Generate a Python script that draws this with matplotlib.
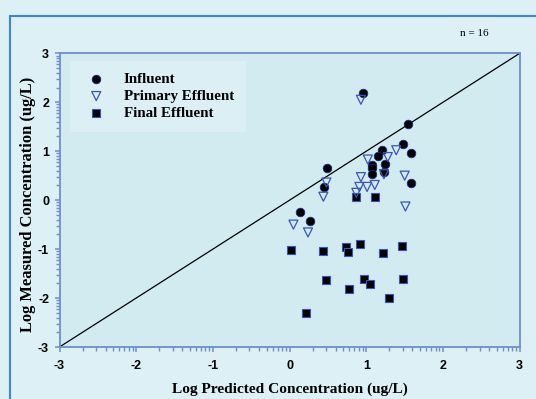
import numpy as np
import matplotlib
matplotlib.use("Agg")
import matplotlib.pyplot as plt
from matplotlib.patches import Rectangle

# Data (log predicted, log measured)
influent_x = [0.96, 1.55, 1.48, 1.58, 1.21, 1.15, 1.08, 1.07, 1.08, 1.25, 1.23, 0.49, 0.45, 1.58, 0.13, 0.26]
influent_y = [2.19, 1.55, 1.14, 0.96, 1.03, 0.91, 0.71, 0.65, 0.54, 0.73, 0.58, 0.66, 0.26, 0.36, -0.24, -0.43]

primary_x = [0.93, 1.39, 1.28, 1.02, 0.93, 0.48, 0.91, 1.01, 1.11, 0.87, 1.23, 1.50, 0.44, 1.51, 0.05, 0.24]
primary_y = [2.05, 1.02, 0.88, 0.83, 0.47, 0.36, 0.27, 0.27, 0.31, 0.15, 0.53, 0.50, 0.07, -0.13, -0.50, -0.66]

final_x = [0.87, 1.11, 0.02, 0.44, 0.73, 0.76, 0.92, 1.47, 1.22, 0.47, 0.97, 1.05, 0.78, 1.48, 1.29, 0.22]
final_y = [0.06, 0.06, -1.01, -1.03, -0.96, -1.05, -0.90, -0.93, -1.07, -1.64, -1.61, -1.72, -1.82, -1.62, -2.00, -2.30]

major_ticks = [-3, -2, -1, 0, 1, 2, 3]
series_labels = ["Influent", "Primary Effluent", "Final Effluent"]
x_label = "Log Predicted Concentration (ug/L)"
y_label = "Log Measured Concentration (ug/L)"
n_text = "n = 16"

W, H = 536, 399
fig = plt.figure(figsize=(W / 100, H / 100), dpi=100)
fig.patch.set_facecolor("#dcf0f5")

# outer blue frame (clipped at right/bottom)
fig.patches.append(Rectangle((9.5 / W, -0.05), 1.2, (H - 15.5) / H + 0.05,
                             transform=fig.transFigure, fill=False,
                             edgecolor="#3d86d6", linewidth=1.5))

ax = fig.add_axes([59.5 / W, (H - 347) / H, (519.7 - 59.5) / W, (347 - 53.3) / H])
ax.set_facecolor("#d2ebf1")
ax.set_xlim(-3, 3)
ax.set_ylim(-3, 3)

spine_color = "#6f8ecc"
for s in ax.spines.values():
    s.set_color(spine_color)
    s.set_linewidth(1.3)

ax.set_xticks(major_ticks)
ax.set_yticks(major_ticks)
minor = []
for k in range(-3, 3):
    for m in range(2, 10):
        minor.append(k + np.log10(m))
ax.set_xticks(minor, minor=True)
ax.set_yticks(minor, minor=True)
ax.tick_params(which="both", direction="out", color=spine_color, top=False, right=False)
ax.tick_params(which="major", length=3.5, width=1.1)
ax.tick_params(which="minor", length=3.0, width=1.0)
ax.tick_params(axis="x", which="major", pad=6)
ax.tick_params(axis="y", which="major", pad=4)
ax.set_xticklabels([str(t) for t in major_ticks], fontsize=9, fontweight="bold", family="Liberation Sans")
ax.set_yticklabels([str(t) for t in major_ticks], fontsize=9, fontweight="bold", family="Liberation Sans")

ax.plot([-3, 3], [-3, 3], color="black", linewidth=0.9, zorder=2)

h1 = ax.scatter(influent_x, influent_y, marker="o", s=38, facecolor="black",
                edgecolor="#1a2a80", linewidth=0.6, zorder=3, label=series_labels[0])
h2 = ax.scatter(primary_x, primary_y, marker="v", s=42, facecolor="none",
                edgecolor="#3a55b5", linewidth=0.9, zorder=4, label=series_labels[1])
h3 = ax.scatter(final_x, final_y, marker="s", s=34, facecolor="black",
                edgecolor="#3a55b5", linewidth=0.8, zorder=3, label=series_labels[2])

leg = ax.legend(handles=[h1, h2, h3], loc="upper left",
                bbox_to_anchor=((70 - 59.5) / (519.7 - 59.5), (347 - 61) / (347 - 53.3)),
                frameon=True, fancybox=False, borderpad=0.75, borderaxespad=0,
                handletextpad=0.85, handlelength=2.0,
                labelspacing=0.25, prop={"family": "Liberation Serif", "weight": "bold", "size": 10.8})
leg.get_frame().set_facecolor("#dbeff5")
leg.get_frame().set_edgecolor("none")
leg.get_frame().set_alpha(1)

ax.set_xlabel(x_label, fontsize=11.1, fontweight="bold", family="Liberation Serif")
ax.set_ylabel(y_label, fontsize=11.9, fontweight="bold", family="Liberation Serif")
ax.xaxis.set_label_coords((290 - 59.5) / (519.7 - 59.5), -(389 - 347) / (347 - 53.3))
ax.yaxis.set_label_coords(-(59.5 - 28) / (519.7 - 59.5), (347 - 204) / (347 - 53.3))
ax.xaxis.label.set_va("center")
ax.yaxis.label.set_va("center")

fig.text(474 / W, 1 - 33 / H, n_text, fontsize=8, family="Liberation Serif",
         ha="center", va="center")

fig.savefig("out.png", dpi=100, facecolor=fig.get_facecolor())
